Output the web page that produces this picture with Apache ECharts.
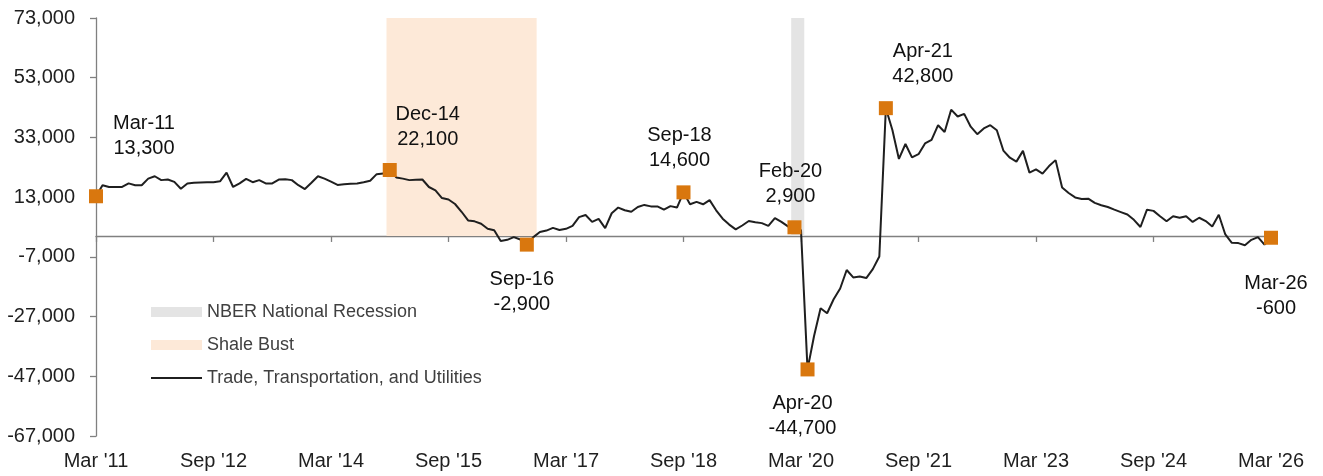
<!DOCTYPE html>
<html>
<head>
<meta charset="utf-8">
<script src="https://cdn.jsdelivr.net/npm/echarts@6/dist/echarts.min.js"></script>
<style>
  html, body { margin: 0; padding: 0; background: #fff; }
  #main { width: 1323px; height: 476px; }
</style>
</head>
<body>
<div id="main"></div>
<script>
// monthly categories, Mar 2011 .. Mar 2026
var monthNames = ['Jan', 'Feb', 'Mar', 'Apr', 'May', 'Jun', 'Jul', 'Aug', 'Sep', 'Oct', 'Nov', 'Dec'];
var months = [];
for (var y = 2011; y <= 2026; y++) {
  for (var m = 0; m < 12; m++) {
    if ((y === 2011 && m < 2) || (y === 2026 && m > 2)) continue;
    months.push(monthNames[m] + " '" + String(y).slice(2));
  }
}

// Trade, Transportation, and Utilities - job change, Mar '11 -> Mar '26
var jobChange = [
  13300, 17000, 16400, 16400, 16400, 17600, 17000, 17000, 19200, 20000, 18700, 18900,
  18100, 15800, 17600, 17800, 17900, 18000, 18000, 18300, 21200, 16400, 17600, 19100,
  18000, 18700, 17600, 17600, 18900, 19000, 18700, 17000, 15700, 17800, 20000, 19200,
  18200, 17100, 17300, 17500, 17600, 18000, 18500, 20700, 20900, 22100, 19600, 19200,
  18700, 18800, 18900, 16400, 15300, 12700, 12200, 10700, 8100, 5200, 4900, 4100,
  2400, 1900, -1700, -1300, -400, -1200, -2900, -400, 1300, 1800, 2700, 2000,
  2400, 3400, 6300, 7000, 4700, 5700, 2600, 7600, 9500, 8600, 8100, 9700,
  10400, 9900, 9900, 8800, 10000, 9500, 14600, 10600, 11400, 10600, 12000, 8600,
  5800, 3800, 2200, 3500, 5000, 4600, 4300, 3400, 6000, 4700, 3200, 2900,
  1900, -44700, -33500, -24200, -25900, -21200, -17600, -11400, -13900, -13600, -14100, -11100,
  -6900, 42800, 35500, 25800, 30800, 26300, 27400, 31000, 32200, 37100, 34800, 42300,
  40000, 40900, 36600, 34100, 36000, 37100, 35400, 28600, 26200, 24900, 28500, 21200,
  22300, 20900, 23400, 25400, 16200, 14400, 12900, 12400, 12500, 11100, 10300, 9700,
  8800, 8000, 7200, 5400, 3000, 8800, 8400, 6600, 4900, 6600, 6100, 6600,
  4700, 6100, 5000, 3200, 7100, 500, -2300, -2400, -3100, -1300, -400, -2900,
  -600
];

var yTicks = [-67000, -47000, -27000, -7000, 13000, 33000, 53000, 73000];

// shaded periods (first and last month, inclusive)
var recessionRange = ["Feb '20", "Mar '20"];
var shaleRange = ["Dec '14", "Oct '16"];

// highlighted points
var highlightMonths = ["Mar '11", "Dec '14", "Sep '16", "Sep '18", "Feb '20", "Apr '20", "Apr '21", "Mar '26"];
var highlightNames = ['Mar-11', 'Dec-14', 'Sep-16', 'Sep-18', 'Feb-20', 'Apr-20', 'Apr-21', 'Mar-26'];

var labelOffsets = {
  'Mar-11': [48, -60], 'Dec-14': [38, -43], 'Sep-16': [-5, 47], 'Sep-18': [-4, -44],
  'Feb-20': [-4, -43], 'Apr-20': [-5, 47], 'Apr-21': [37, -44], 'Mar-26': [5, 58]
};

// full-height column for every month in the range, zero on the months just outside it
function shade(range) {
  var a = months.indexOf(range[0]), b = months.indexOf(range[1]);
  return months.map(function (c, i) {
    if (i >= a && i <= b) return yTicks[yTicks.length - 1];
    if (i === a - 1 || i === b + 1) return 0;
    return '-';
  });
}

var FONT = "'Liberation Sans', Arial, sans-serif";
var LINE_NAME = 'Trade, Transportation, and Utilities';

var highlightData = highlightMonths.map(function (c, k) {
  var v = jobChange[months.indexOf(c)];
  var name = highlightNames[k];
  return {
    name: name,
    value: [c, v],
    label: {
      offset: labelOffsets[name],
      formatter: name + '\n' + v.toLocaleString('en-US')
    }
  };
});

function shadeSeries(name, range, color) {
  return {
    name: name,
    type: 'line',
    data: shade(range),
    step: 'middle',
    symbol: 'none',
    lineStyle: { width: 0, opacity: 0 },
    itemStyle: { color: color },
    areaStyle: { color: color, opacity: 1 },
    silent: true,
    z: 1
  };
}

var myChart = echarts.init(document.getElementById('main'));
myChart.setOption({
  animation: false,
  textStyle: { fontFamily: FONT },
  grid: { left: 96, right: 52, top: 18, bottom: 40 },
  legend: {
    orient: 'vertical',
    left: 145,
    top: 297,
    itemWidth: 51,
    itemHeight: 10,
    itemGap: 13,
    textStyle: { fontSize: 18, color: '#404040', lineHeight: 20, fontFamily: FONT },
    data: [
      { name: 'NBER National Recession', icon: 'rect' },
      { name: 'Shale Bust', icon: 'rect' },
      { name: LINE_NAME, itemStyle: { opacity: 0 } }
    ]
  },
  xAxis: [{
    type: 'category',
    data: months,
    boundaryGap: false,
    position: 'bottom',
    axisLine: { show: false, onZero: false },
    axisTick: { show: false },
    axisLabel: { interval: 17, fontSize: 20, color: '#1f1f1f', margin: 15, fontFamily: FONT },
    splitLine: { show: false }
  }, {
    type: 'category',
    data: months,
    boundaryGap: false,
    position: 'top',
    axisLine: { show: true, onZero: true, lineStyle: { color: '#808080', width: 1.3 } },
    axisTick: { show: true, inside: true, interval: 17, length: 6, lineStyle: { color: '#808080', width: 1.3 } },
    axisLabel: { show: false },
    splitLine: { show: false }
  }],
  yAxis: {
    type: 'value',
    min: yTicks[0],
    max: yTicks[yTicks.length - 1],
    axisLine: { show: true, lineStyle: { color: '#808080', width: 1.3 } },
    axisTick: { show: true, length: 6, customValues: yTicks, lineStyle: { color: '#808080', width: 1.3 } },
    axisLabel: {
      customValues: yTicks,
      fontSize: 20, color: '#1f1f1f', margin: 21, fontFamily: FONT,
      formatter: function (v) { return v.toLocaleString('en-US'); }
    },
    splitLine: { show: false }
  },
  series: [
    shadeSeries('NBER National Recession', recessionRange, '#E4E4E4'),
    shadeSeries('Shale Bust', shaleRange, '#FDE9D8'),
    {
      name: LINE_NAME,
      type: 'line',
      data: jobChange,
      symbol: 'none',
      lineStyle: { color: '#1f1f1f', width: 2 },
      itemStyle: { color: '#1f1f1f' },
      z: 3
    }, {
      name: 'Highlights',
      type: 'scatter',
      data: highlightData,
      symbol: 'rect',
      symbolSize: 14,
      itemStyle: { color: '#D9770E', opacity: 1 },
      label: {
        show: true,
        position: 'inside',
        align: 'center',
        verticalAlign: 'middle',
        fontSize: 20,
        lineHeight: 25,
        color: '#111111',
        fontFamily: FONT
      },
      z: 4
    }
  ]
});
</script>
</body>
</html>
